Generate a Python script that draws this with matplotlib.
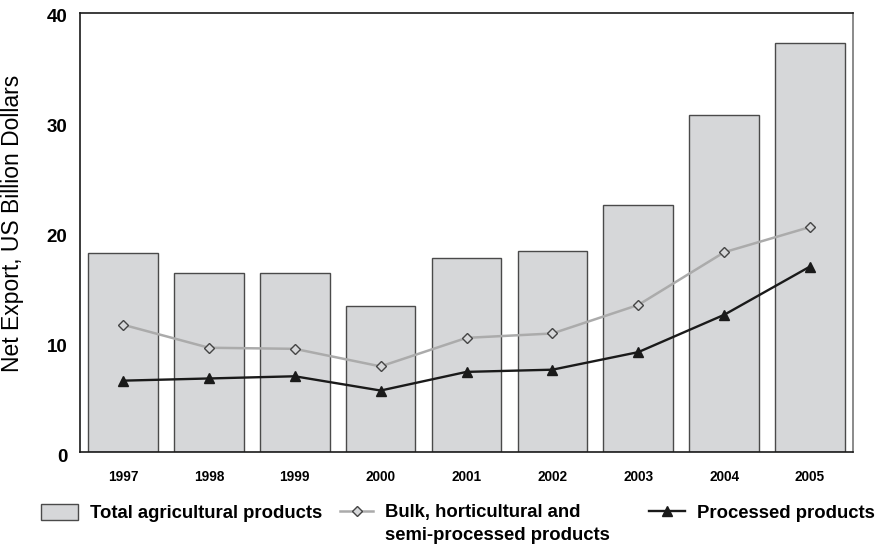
import matplotlib
matplotlib.use("Agg")
import matplotlib.pyplot as plt
from matplotlib.patches import Patch
from matplotlib.lines import Line2D
from matplotlib.transforms import ScaledTranslation

plt.rcParams['font.family'] = ['Liberation Sans', 'DejaVu Sans']

years = ['1997', '1998', '1999', '2000', '2001', '2002', '2003', '2004', '2005']
total_agri = [18.1, 16.3, 16.3, 13.3, 17.7, 18.3, 22.5, 30.7, 37.3]
bulk_semi = [11.6, 9.5, 9.4, 7.8, 10.4, 10.8, 13.4, 18.2, 20.5]
processed = [6.5, 6.7, 6.9, 5.6, 7.3, 7.5, 9.1, 12.5, 16.9]
y_ticks = [0, 10, 20, 30, 40]

W, H = 882, 545
fig = plt.figure(figsize=(W / 100, H / 100), dpi=100)
ax = fig.add_axes([80 / W, 1 - 452 / H, (853 - 80) / W, (452 - 13) / H])

x = list(range(len(years)))
ax.bar(x, total_agri, width=0.81, color='#d6d7d9', edgecolor='#4a4a4a',
       linewidth=1.0, zorder=2)
ax.plot(x, bulk_semi, color='#ababab', linewidth=1.8, marker='D',
        markersize=4.8, markerfacecolor='#d6d7d9', markeredgecolor='#444444',
        markeredgewidth=1.0, zorder=3)
ax.plot(x, processed, color='#1a1a1a', linewidth=1.7, marker='^',
        markersize=6.5, markerfacecolor='#1a1a1a', markeredgecolor='#1a1a1a',
        zorder=4)

ax.set_xlim(-0.5, len(years) - 0.5)
ax.set_ylim(0, 40)
ax.set_yticks(y_ticks)
ax.set_yticklabels([str(v) for v in y_ticks], fontsize=13.5, fontweight='bold')
ax.set_xticks(x)
ax.set_xticklabels(years, fontsize=9.8, fontweight='bold')
ax.tick_params(axis='both', length=0)
ax.tick_params(axis='y', pad=9)
ax.tick_params(axis='x', pad=13)

# y tick labels sit a few pixels below their gridline value
shift = ScaledTranslation(0, -3 / 100, fig.dpi_scale_trans)
for lbl in ax.get_yticklabels():
    lbl.set_transform(lbl.get_transform() + shift)

for side in ['left', 'top', 'bottom']:
    ax.spines[side].set_color('#1a1a1a')
    ax.spines[side].set_linewidth(1.2)
ax.spines['right'].set_color('#777777')
ax.spines['right'].set_linewidth(1.2)

ax.set_ylabel('Net Export, US Billion Dollars', fontsize=16.5)
ax.yaxis.set_label_coords(-0.073, 0.52)

# Legend entries, laid out in one row beneath the axes
leg_y = 1 - 513 / H
fs = 13.3
h_total = Patch(facecolor='#d6d7d9', edgecolor='#4a4a4a', linewidth=1.0)
h_bulk = Line2D([], [], color='#ababab', linewidth=1.8, marker='D',
                markersize=4.8, markerfacecolor='#d6d7d9',
                markeredgecolor='#444444', markeredgewidth=1.0)
h_proc = Line2D([], [], color='#1a1a1a', linewidth=1.7, marker='^',
                markersize=6.5, markerfacecolor='#1a1a1a',
                markeredgecolor='#1a1a1a')

common = dict(loc='center left', frameon=False, borderpad=0, borderaxespad=0,
              prop={'size': fs, 'weight': 'bold'})
leg1 = fig.legend([h_total], ['Total agricultural products'],
                  bbox_to_anchor=(41 / W, leg_y), handlelength=2.0,
                  handleheight=0.97, handletextpad=0.65, **common)
leg2 = fig.legend([h_bulk], ['Bulk, horticultural and'],
                  bbox_to_anchor=(340 / W, leg_y), handlelength=1.8,
                  handletextpad=0.65, **common)
leg3 = fig.legend([h_proc], ['Processed products'],
                  bbox_to_anchor=(649 / W, leg_y), handlelength=1.95,
                  handletextpad=0.65, **common)
fig.text(385 / W, 1 - 536 / H, 'semi-processed products', fontsize=fs,
         fontweight='bold', va='center', ha='left')

fig.savefig('out.png', dpi=100)
